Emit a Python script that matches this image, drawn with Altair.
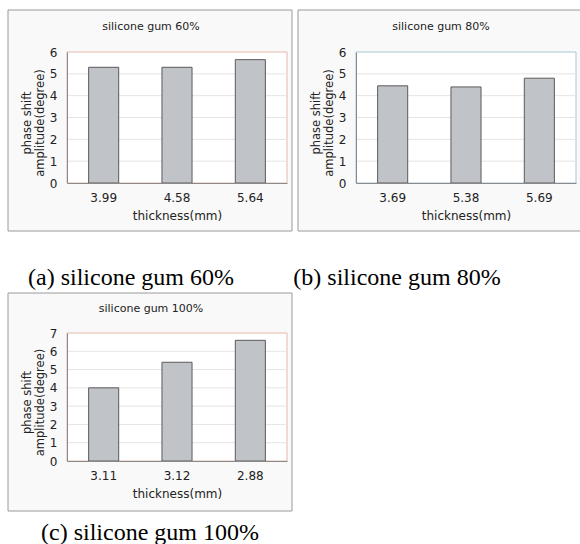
import altair as alt
import pandas as pd

# Phase-shift amplitude (degree) against sample thickness (mm), one panel per gum ratio
thickness_60 = ["3.99", "4.58", "5.64"]
phase_60 = [5.3, 5.3, 5.65]

thickness_80 = ["3.69", "5.38", "5.69"]
phase_80 = [4.45, 4.4, 4.8]

thickness_100 = ["3.11", "3.12", "2.88"]
phase_100 = [4.0, 5.4, 6.6]

y_ticks_6 = [0, 1, 2, 3, 4, 5, 6]
y_ticks_7 = [0, 1, 2, 3, 4, 5, 6, 7]

panel_titles = ["silicone gum 60%", "silicone gum 80%", "silicone gum 100%"]
captions = ["(a) silicone gum 60%", "(b) silicone gum 80%", "(c) silicone gum 100%"]

SANS = "DejaVu Sans"
SERIF = "Liberation Serif"
PLOT_W = 220
one_row = pd.DataFrame({"k": [0]})


def panel(cats, vals, ticks, height, title, caption, edge_color, frame, title_pos, cap_pos):
    ymax = ticks[-1]
    df = pd.DataFrame({"thickness": cats, "phase": vals})
    grid_df = pd.DataFrame({"phase": ticks[1:-1]})
    yscale = alt.Scale(domain=[0, ymax], nice=False, zero=True)
    yaxis = alt.Axis(
        title=["phase shift", "amplitude(degree)"],
        values=ticks,
        format="d",
        ticks=False,
        labelPadding=10,
        titlePadding=4,
        titleY=height / 2 + 5,
        grid=False,
        domainColor="#8a8a8a",
        zindex=1,
    )

    fx0, fx1, fy0, fy1 = frame
    frame_box = alt.Chart(one_row).mark_rect(
        fill="#f9f9f9", stroke="#9a9a9a", strokeWidth=1
    ).encode(x=alt.value(fx0), x2=alt.value(fx1), y=alt.value(fy0), y2=alt.value(fy1))

    plot_box = alt.Chart(one_row).mark_rect(
        fill="white", stroke=edge_color, strokeWidth=1
    ).encode(x=alt.value(0), x2=alt.value(PLOT_W), y=alt.value(0), y2=alt.value(height))

    grid = alt.Chart(grid_df).mark_rule(color="#e4e4e4", strokeWidth=1).encode(
        y=alt.Y("phase:Q", scale=yscale, axis=yaxis),
        x=alt.value(0),
        x2=alt.value(PLOT_W),
    )

    bars = alt.Chart(df).mark_bar(
        fill="#c0c3c8", stroke="#5a5a5a", strokeWidth=1
    ).encode(
        x=alt.X(
            "thickness:N",
            sort=None,
            scale=alt.Scale(paddingInner=0.59, paddingOuter=0.295),
            axis=alt.Axis(
                title="thickness(mm)",
                labelAngle=0,
                ticks=False,
                labelPadding=9,
                titlePadding=7,
                domainColor="#8a8a8a",
                zindex=1,
            ),
        ),
        y=alt.Y("phase:Q", scale=yscale, axis=yaxis),
    )

    head = alt.Chart(one_row).mark_text(
        font=SANS, fontSize=11, color="#222222", align="center", baseline="middle"
    ).encode(x=alt.value(title_pos[0]), y=alt.value(title_pos[1]), text=alt.value(title))

    cap = alt.Chart(one_row).mark_text(
        font=SERIF, fontSize=24, color="black", align="center", baseline="alphabetic"
    ).encode(x=alt.value(cap_pos[0]), y=alt.value(cap_pos[1]), text=alt.value(caption))

    return alt.layer(frame_box, plot_box, grid, bars, head, cap).properties(
        width=PLOT_W, height=height
    )


chart_a = panel(thickness_60, phase_60, y_ticks_6, 131, panel_titles[0], captions[0],
                "#e8b8ac", (-59, 225, -42, 179), (84, -25), (64, 233))
chart_b = panel(thickness_80, phase_80, y_ticks_6, 131, panel_titles[1], captions[1],
                "#a9c6d6", (-58, 228, -42, 179), (85, -25), (41, 233))
chart_c = panel(thickness_100, phase_100, y_ticks_7, 128, panel_titles[2], captions[2],
                "#e8b8ac", (-59, 225, -40, 178), (84, -24), (83, 207))

chart = alt.concat(
    chart_a, chart_b, chart_c,
    columns=2,
    spacing={"row": 150, "column": 69},
    bounds="flush",
).properties(
    autosize=alt.AutoSizeParams(type="none"),
    padding={"left": 67, "top": 52, "right": 513, "bottom": 492},
    background="white",
).configure_view(
    strokeWidth=0
).configure_axis(
    labelFont=SANS,
    labelFontSize=12,
    labelColor="#222222",
    titleFont=SANS,
    titleFontWeight="normal",
    titleColor="#222222",
).configure_axisX(
    titleFontSize=12
).configure_axisY(
    titleFontSize=11.5,
    titleLineHeight=13,
)

chart.save("out.html", embed_options={"renderer": "svg", "actions": False})
